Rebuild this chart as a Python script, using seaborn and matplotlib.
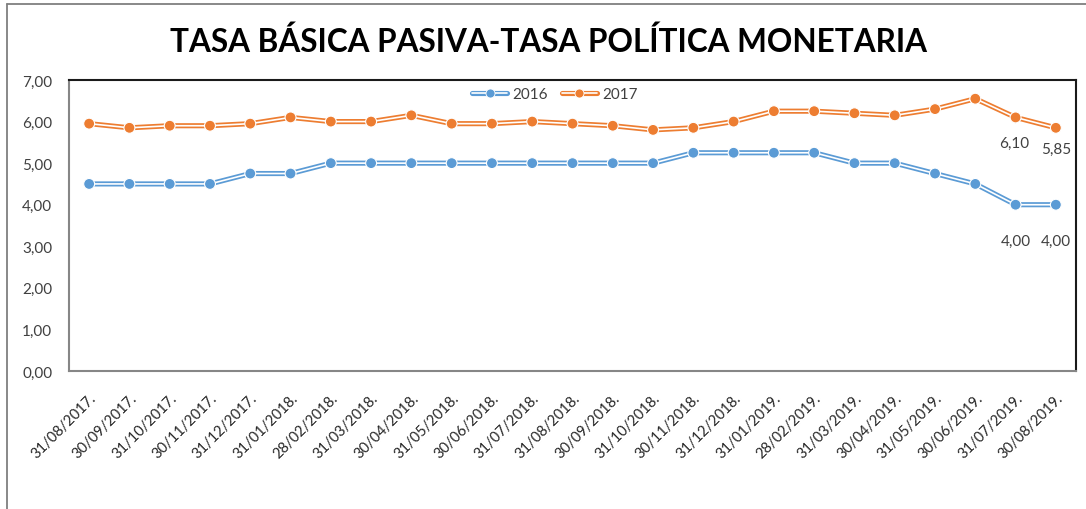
import matplotlib
matplotlib.use("Agg")
import matplotlib.pyplot as plt
import seaborn as sns
import pandas as pd
from matplotlib.lines import Line2D
from matplotlib.legend_handler import HandlerTuple

dates = ["31/08/2017.", "30/09/2017.", "31/10/2017.", "30/11/2017.", "31/12/2017.",
         "31/01/2018.", "28/02/2018.", "31/03/2018.", "30/04/2018.", "31/05/2018.",
         "30/06/2018.", "31/07/2018.", "31/08/2018.", "30/09/2018.", "31/10/2018.",
         "30/11/2018.", "31/12/2018.", "31/01/2019.", "28/02/2019.", "31/03/2019.",
         "30/04/2019.", "31/05/2019.", "30/06/2019.", "31/07/2019.", "30/08/2019."]
serie_2016 = [4.50, 4.50, 4.50, 4.50, 4.75, 4.75, 5.00, 5.00, 5.00, 5.00, 5.00, 5.00,
              5.00, 5.00, 5.00, 5.25, 5.25, 5.25, 5.25, 5.00, 5.00, 4.75, 4.50, 4.00, 4.00]
serie_2017 = [5.95, 5.85, 5.90, 5.90, 5.95, 6.10, 6.00, 6.00, 6.15, 5.95, 5.95, 6.00,
              5.95, 5.90, 5.80, 5.85, 6.00, 6.25, 6.25, 6.20, 6.15, 6.30, 6.55, 6.10, 5.85]
series_names = ["2016", "2017"]
y_ticks = [0, 1, 2, 3, 4, 5, 6, 7]
title = "TASA BÁSICA PASIVA-TASA POLÍTICA MONETARIA"

colors = {"2016": "#5B9BD5", "2017": "#ED7D31"}

df = pd.DataFrame({
    "fecha": dates * 2,
    "valor": serie_2016 + serie_2017,
    "serie": ["2016"] * len(dates) + ["2017"] * len(dates),
})

sns.set_theme(style="white")
plt.rcParams["font.family"] = ["Lato", "DejaVu Sans"]

fig = plt.figure(figsize=(10.86, 5.10), dpi=100)
ax = fig.add_axes([69 / 1086, 1 - 372 / 510, 1007 / 1086, 291 / 510])

# double line: thick colored + thin white centre
sns.lineplot(data=df, x="fecha", y="valor", hue="serie", palette=colors, sort=False,
             linewidth=3.7, ax=ax, legend=False)
sns.lineplot(data=df, x="fecha", y="valor", units="serie", estimator=None, color="white",
             sort=False, linewidth=1.2, ax=ax, legend=False)
sns.scatterplot(data=df, x="fecha", y="valor", hue="serie", palette=colors, s=62,
                edgecolor="white", linewidth=0.8, ax=ax, legend=False, zorder=5)

ax.set_xlim(-0.5, len(dates) - 0.5)
ax.set_ylim(0, 7)
ax.set_yticks(y_ticks)
ax.set_yticklabels([f"{v:.2f}".replace(".", ",") for v in y_ticks])
ax.set_xlabel("")
ax.set_ylabel("")
ax.tick_params(axis="y", length=0, pad=12, labelsize=11, labelcolor="#404040")
ax.tick_params(axis="x", length=0, pad=14, labelsize=10.5, labelcolor="#262626")
for lab in ax.get_xticklabels():
    lab.set_rotation(45)
    lab.set_ha("right")
    lab.set_va("top")
    lab.set_rotation_mode("anchor")
ax.grid(False)
for side in ["left", "bottom"]:
    ax.spines[side].set_color("#868686")
    ax.spines[side].set_linewidth(1.5)
for side in ["top", "right"]:
    ax.spines[side].set_color("#1a1a1a")
    ax.spines[side].set_linewidth(1.5)

# data labels on the last two points
n = len(dates)
for i in [n - 2, n - 1]:
    ax.annotate(f"{serie_2016[i]:.2f}".replace(".", ","), (dates[i], serie_2016[i]),
                xytext=(0, -26), textcoords="offset points", ha="center", va="center",
                fontsize=11, color="#404040")
ax.annotate(f"{serie_2017[n - 2]:.2f}".replace(".", ","), (dates[n - 2], serie_2017[n - 2]),
            xytext=(-1, -18), textcoords="offset points", ha="center", va="center",
            fontsize=11, color="#404040",
            arrowprops=dict(arrowstyle="-", color="#a6a6a6", lw=1.2, shrinkA=7, shrinkB=3))
ax.annotate(f"{serie_2017[n - 1]:.2f}".replace(".", ","), (dates[n - 1], serie_2017[n - 1]),
            xytext=(0, -15), textcoords="offset points", ha="center", va="center",
            fontsize=11, color="#404040")

# legend with double-line handles
handles = []
for name in series_names:
    c = colors[name]
    h = (Line2D([], [], color=c, lw=3.7),
         Line2D([], [], color="white", lw=1.2),
         Line2D([], [], color=c, marker="o", markersize=6.5, markeredgecolor="white",
                markeredgewidth=0.6, lw=0))
    handles.append(h)
ax.legend(handles, series_names, handler_map={tuple: HandlerTuple(ndivide=1)},
          loc="center", bbox_to_anchor=((555 - 69) / 1007, (372 - 95) / 291),
          ncol=2, frameon=False, fontsize=11, handlelength=2.3, columnspacing=0.9,
          handletextpad=0.35, labelcolor="#404040")

fig.text(549 / 1086, 1 - 42 / 510, title, ha="center", va="center",
         fontsize=22.7, fontweight="bold", color="#000000")

# outer chart frame
fig.add_artist(Line2D([7 / 1086, 7 / 1086], [0, 1 - 5 / 510], color="#7f7f7f", lw=1.3,
                      transform=fig.transFigure))
fig.add_artist(Line2D([7 / 1086, 1], [1 - 5 / 510, 1 - 5 / 510], color="#7f7f7f", lw=1.3,
                      transform=fig.transFigure))

fig.savefig("out.png", dpi=100, facecolor="white")
